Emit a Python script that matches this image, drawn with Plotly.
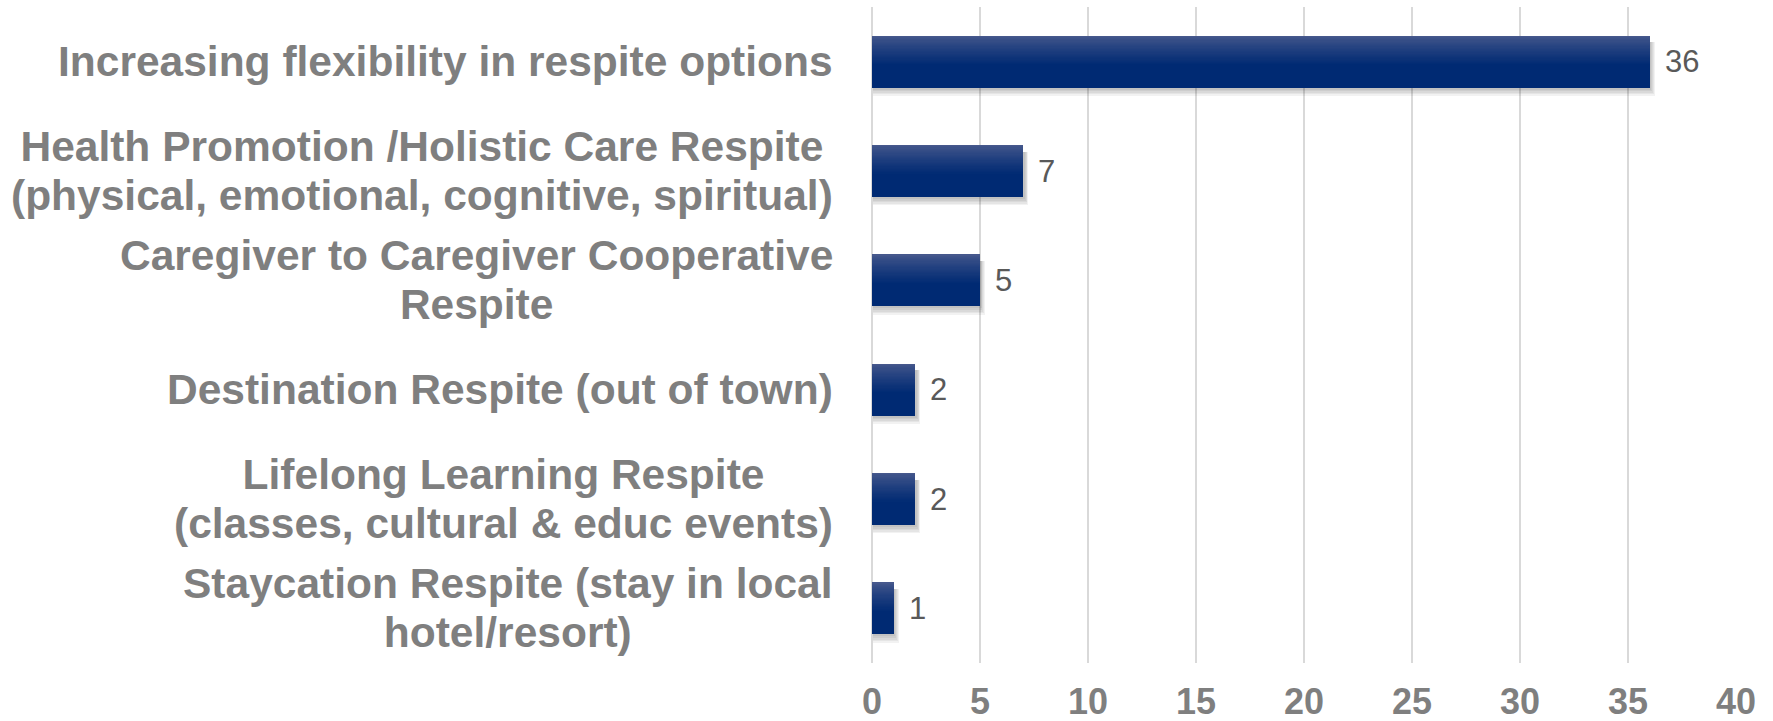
import plotly.graph_objects as go

# Survey results: preferred respite models
categories = [
    "Increasing flexibility in respite options",
    "Health Promotion /Holistic Care Respite<br>(physical, emotional, cognitive, spiritual)",
    "Caregiver to Caregiver Cooperative<br>Respite",
    "Destination Respite (out of town)",
    "Lifelong Learning Respite<br>(classes, cultural & educ events)",
    "Staycation Respite (stay in local<br>hotel/resort)",
]
counts = [36, 7, 5, 2, 2, 1]
x_ticks = [0, 5, 10, 15, 20, 25, 30, 35, 40]

W, H = 1773, 721
M_L, M_R, M_T, M_B = 872, 37, 7, 58
plot_h = H - M_T - M_B
px_per_cat = plot_h / len(categories)
plot_w = W - M_L - M_R
px_per_unit = plot_w / (x_ticks[-1] - x_ticks[0])

BAR_W = 0.476  # bar thickness in category units
FONT = "Arial, Liberation Sans, sans-serif"
LABEL_SIZE = 42.5
LINE_GAP = 49  # px between baselines of wrapped labels

fig = go.Figure()

# soft drop shadow under each bar
for i in range(5):
    down = (2 + 1.6 * i) / px_per_cat
    right = (0.5 + 0.9 * i) / px_per_unit
    fig.add_trace(go.Bar(
        y=categories, x=[v + right for v in counts], base=0.05,
        orientation="h",
        width=BAR_W - 0.06 + down,
        offset=-BAR_W / 2 + 0.06,
        marker=dict(color="rgba(0,0,0,0.05)", line=dict(width=0)),
        hoverinfo="skip", showlegend=False,
    ))

# vertical gradient on bars: lighter top edge fading into navy
top_rgb = (70, 88, 140)
bot_rgb = (0, 42, 115)
n_bands = 24
fade = 0.55
for k in range(n_bands + 1):
    t = k / n_bands
    tt = t ** 0.8
    c = tuple(round(a + (b - a) * tt) for a, b in zip(top_rgb, bot_rgb))
    start = BAR_W * fade * t
    fig.add_trace(go.Bar(
        y=categories, x=counts, orientation="h",
        width=BAR_W - start,
        offset=-BAR_W / 2 + start,
        marker=dict(color="rgb(%d,%d,%d)" % c, line=dict(width=0)),
        hoverinfo="skip", showlegend=False,
    ))

annotations = []
# value labels to the right of each bar
for cat, v in zip(categories, counts):
    annotations.append(dict(
        x=v, y=cat, xref="x", yref="y", text=str(v),
        xanchor="left", yanchor="middle", xshift=13, showarrow=False,
        font=dict(family=FONT, size=31, color="#595959"),
    ))


def label_markup(cat):
    # each line styled at full size; the annotation's own font size sets line pitch
    return "<br>".join(
        "<span style='font-size:%spx'><b>%s</b></span>" % (LABEL_SIZE, line)
        for line in cat.split("<br>")
    )


# category labels left of the axis, lines centred within each block
for cat in categories:
    annotations.append(dict(
        x=0, y=cat, xref="x", yref="y", text=label_markup(cat),
        xanchor="right", yanchor="middle", xshift=-37, align="center",
        showarrow=False,
        font=dict(family=FONT, size=LINE_GAP / 1.3, color="#7f7f7f"),
    ))

fig.update_layout(
    width=W, height=H,
    margin=dict(l=M_L, r=M_R, t=M_T, b=M_B, pad=0, autoexpand=False),
    paper_bgcolor="white", plot_bgcolor="white",
    barmode="overlay", bargap=0,
    annotations=annotations,
    xaxis=dict(
        range=[x_ticks[0], x_ticks[-1]], tickvals=x_ticks,
        showgrid=True, gridcolor="#d9d9d9", gridwidth=2,
        zeroline=True, zerolinecolor="#d9d9d9", zerolinewidth=2,
        showline=False, ticks="", automargin=False,
        tickfont=dict(family=FONT, size=36, color="#7f7f7f", weight="bold"),
        ticklabelstandoff=14,
    ),
    yaxis=dict(
        type="category", categoryarray=categories, categoryorder="array",
        range=[len(categories) - 0.5, -0.5], automargin=False,
        showticklabels=False, showgrid=False, zeroline=False, ticks="",
    ),
)

fig.write_html("out.html")
